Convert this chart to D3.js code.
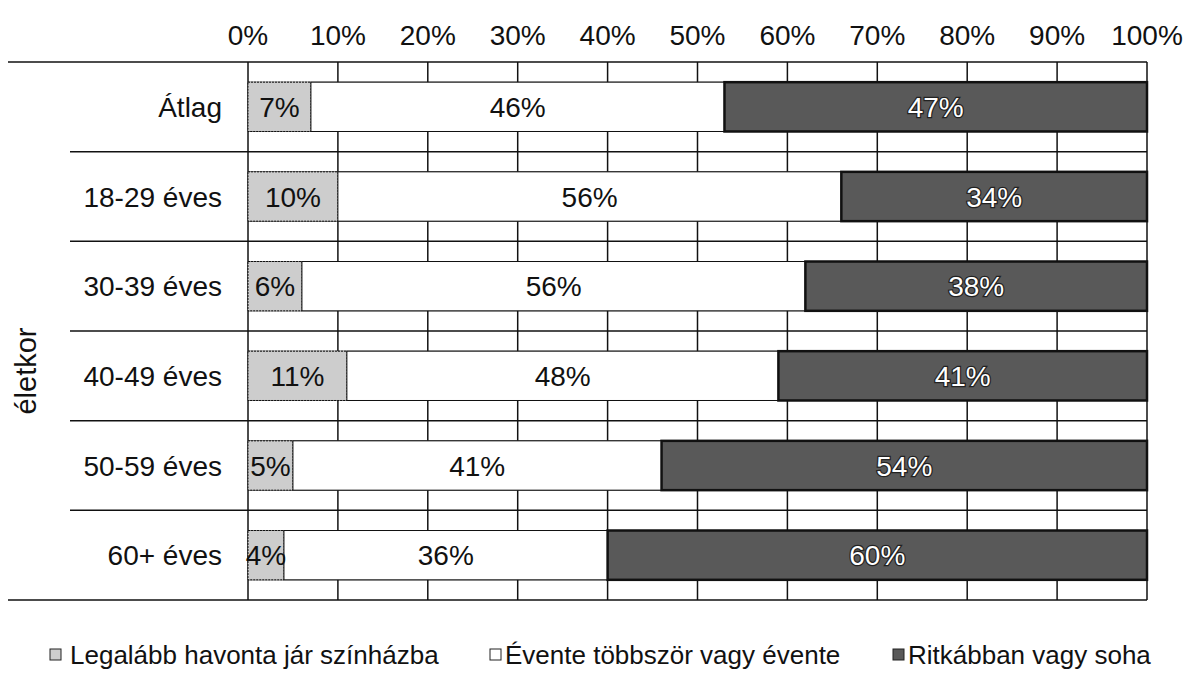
<!DOCTYPE html>
<html>
<head>
<meta charset="utf-8">
<script src="https://cdn.jsdelivr.net/npm/d3@7"></script>
<style>
  body { margin: 0; background: #fff; }
  text { font-family: "Liberation Sans", Arial, sans-serif; }
</style>
</head>
<body>
<script>
// Data
var categories = ["Átlag", "18-29 éves", "30-39 éves", "40-49 éves", "50-59 éves", "60+ éves"];
var seriesNames = ["Legalább havonta jár színházba", "Évente többször vagy évente", "Ritkábban vagy soha"];
var monthly = [7, 10, 6, 11, 5, 4];
var yearly = [46, 56, 56, 48, 41, 36];
var rarely = [47, 34, 38, 41, 54, 60];
var ticks = [0, 10, 20, 30, 40, 50, 60, 70, 80, 90, 100];

var width = 1199, height = 676;
var colors = ["#cdcdcd", "#ffffff", "#595959"];

var svg = d3.select("body")
    .append("svg")
    .attr("width", width)
    .attr("height", height);

// scales
var x = d3.scaleLinear().domain([0, 100]).range([248, 1147]);
var y = d3.scaleBand()
    .domain(categories)
    .range([62, 600])
    .paddingInner(0.45)
    .paddingOuter(0.225);

// build stacked rows
var rows = categories.map(function (c, i) {
    return { cat: c, vals: [monthly[i], yearly[i], rarely[i]] };
});
var stack = d3.stack().keys([0, 1, 2]).value(function (d, k) { return d.vals[k]; });
var series = stack(rows);

// vertical grid
svg.append("g").selectAll("line")
    .data(ticks)
    .enter()
    .append("line")
    .attr("x1", function (d) { return x(d); })
    .attr("x2", function (d) { return x(d); })
    .attr("y1", 62)
    .attr("y2", 600)
    .attr("stroke", "#111")
    .attr("stroke-width", 1.5);

// horizontal lines: band boundaries + bar edges
var step = y.step();
var bounds = d3.range(categories.length + 1).map(function (i) { return 62 + i * step; });
svg.append("g").selectAll("line")
    .data(bounds)
    .enter()
    .append("line")
    .attr("x1", function (d, i) { return (i == 0 || i == categories.length) ? 8 : 70; })
    .attr("x2", x(100))
    .attr("y1", function (d) { return d; })
    .attr("y2", function (d) { return d; })
    .attr("stroke", "#111")
    .attr("stroke-width", 1.5);

var edges = [];
categories.forEach(function (c) {
    edges.push(y(c));
    edges.push(y(c) + y.bandwidth());
});
svg.append("g").selectAll("line")
    .data(edges)
    .enter()
    .append("line")
    .attr("x1", x(0))
    .attr("x2", x(100))
    .attr("y1", function (d) { return d; })
    .attr("y2", function (d) { return d; })
    .attr("stroke", "#222")
    .attr("stroke-width", 1);

// bars
var groups = svg.append("g").selectAll("g")
    .data(series)
    .enter()
    .append("g")
    .attr("fill", function (d, i) { return colors[i]; });

groups.selectAll("rect")
    .data(function (d) { return d; })
    .enter()
    .append("rect")
    .attr("x", function (d) { return x(d[0]); })
    .attr("y", function (d) { return y(d.data.cat); })
    .attr("width", function (d) { return x(d[1]) - x(d[0]); })
    .attr("height", y.bandwidth())
    .attr("stroke", "#111")
    .attr("stroke-width", function () {
        var k = d3.select(this.parentNode).datum().key;
        return k == 2 ? 2.5 : 1;
    })
    .attr("stroke-dasharray", function () {
        var k = d3.select(this.parentNode).datum().key;
        return k == 0 ? "2,1" : null;
    });

// data labels
series.forEach(function (s) {
    svg.append("g").selectAll("text")
        .data(s)
        .enter()
        .append("text")
        .attr("x", function (d) { return (x(d[0]) + x(d[1])) / 2; })
        .attr("y", function (d) { return y(d.data.cat) + y.bandwidth() / 2 + 10; })
        .attr("text-anchor", "middle")
        .attr("font-size", "28px")
        .attr("fill", s.key == 2 ? "#fff" : "#111")
        .attr("stroke", s.key == 2 ? "#222" : "none")
        .attr("stroke-width", s.key == 2 ? 2.5 : 0)
        .attr("paint-order", "stroke")
        .text(function (d) { return (d[1] - d[0]) + "%"; });
});

// top axis labels
svg.append("g").selectAll("text")
    .data(ticks)
    .enter()
    .append("text")
    .attr("x", function (d) { return x(d); })
    .attr("y", 45)
    .attr("text-anchor", "middle")
    .attr("font-size", "28px")
    .attr("fill", "#111")
    .text(function (d) { return d + "%"; });

// category labels
svg.append("g").selectAll("text")
    .data(categories)
    .enter()
    .append("text")
    .attr("x", 222)
    .attr("y", function (d) { return y(d) + y.bandwidth() / 2 + 10; })
    .attr("text-anchor", "end")
    .attr("font-size", "28px")
    .attr("fill", "#111")
    .text(function (d) { return d; });

// Y Label
svg.append("text")
    .attr("x", -371)
    .attr("y", 36)
    .attr("text-anchor", "middle")
    .attr("transform", "rotate(-90)")
    .attr("font-size", "29px")
    .attr("fill", "#111")
    .text("életkor");

// legend
var legendX = [50, 490, 893];
var legend = svg.append("g").selectAll("g")
    .data(seriesNames)
    .enter()
    .append("g")
    .attr("transform", function (d, i) { return "translate(" + legendX[i] + ",0)"; });

legend.append("rect")
    .attr("x", 0)
    .attr("y", 649)
    .attr("width", 11)
    .attr("height", 11)
    .attr("fill", function (d, i) { return colors[i]; })
    .attr("stroke", "#222")
    .attr("stroke-width", 1);

legend.append("text")
    .attr("x", function (d, i) { return i == 0 ? 20 : 15; })
    .attr("y", 664)
    .attr("font-size", "26px")
    .attr("fill", "#111")
    .text(function (d) { return d; });
</script>
</body>
</html>
